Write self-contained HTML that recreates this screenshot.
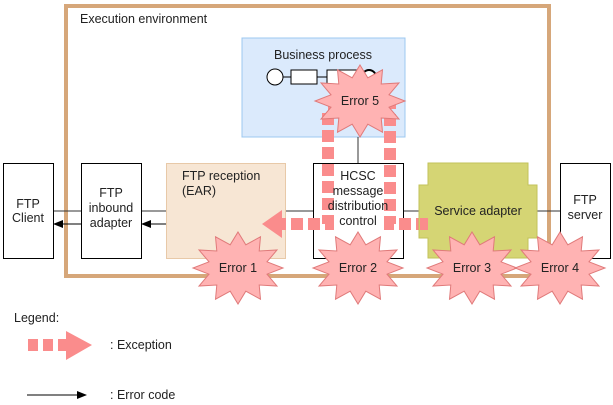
<!DOCTYPE html>
<html><head><meta charset="utf-8"><style>
html,body{margin:0;padding:0;background:#fff}
svg{display:block}
text{font-family:"Liberation Sans",Arial,sans-serif;font-size:12.5px;fill:#222}
</style></head><body>
<svg id="s" width="613" height="405" viewBox="0 0 613 405" xmlns="http://www.w3.org/2000/svg">
<defs><marker id="ah" markerWidth="10" markerHeight="8" refX="9" refY="4" orient="auto" markerUnits="userSpaceOnUse"><path d="M0,0 L10,4 L0,8 Z" fill="#000"/></marker></defs>
<rect x="66" y="6" width="483" height="270" fill="none" stroke="#d6a77a" stroke-width="4"/>
<text x="80" y="23">Execution environment</text>
<rect x="242" y="38" width="163" height="99" fill="#dbeafc" stroke="#9cc8f0" stroke-width="1"/>
<text x="323" y="59" text-anchor="middle">Business process</text>
<line x1="283" y1="77" x2="291" y2="77" stroke="#000"/>
<line x1="317" y1="77" x2="327" y2="77" stroke="#000"/>
<circle cx="275" cy="77" r="8" fill="#fff" stroke="#000"/>
<rect x="291" y="70" width="26" height="14" fill="#fff" stroke="#000"/>
<rect x="327" y="70" width="30" height="14" fill="#fff" stroke="#000"/>
<circle cx="369" cy="77" r="7" fill="#fff" stroke="#000" stroke-width="2"/>
<line x1="358" y1="137" x2="358" y2="163" stroke="#333"/>
<g stroke="#333" stroke-width="1">
<line x1="53" y1="211" x2="81" y2="211"/>
<line x1="141" y1="211" x2="166" y2="211"/>
<line x1="285" y1="211" x2="313" y2="211"/>
<line x1="403" y1="211" x2="419" y2="211"/>
<line x1="537" y1="211" x2="560" y2="211"/>
</g>
<line x1="174" y1="224" x2="142" y2="224" stroke="#000" marker-end="url(#ah)"/>
<line x1="81" y1="224" x2="54" y2="224" stroke="#000" marker-end="url(#ah)"/>
<rect x="3.5" y="163.5" width="50" height="95" fill="#fff" stroke="#000"/>
<text x="28" y="208" text-anchor="middle">FTP</text><text x="28" y="222" text-anchor="middle">Client</text>
<rect x="81.5" y="163.5" width="60" height="95" fill="#fff" stroke="#000"/>
<text x="111" y="197" text-anchor="middle">FTP</text><text x="111" y="212" text-anchor="middle">inbound</text><text x="111" y="227" text-anchor="middle">adapter</text>
<rect x="166.5" y="163.5" width="119" height="95" fill="#f7e6d4" stroke="#e8c9a8"/>
<text x="182" y="180">FTP reception</text><text x="182" y="195">(EAR)</text>
<rect x="313.5" y="163.5" width="90" height="95" fill="#fff" stroke="#000"/>
<g stroke="#fa8c8c" stroke-width="12" fill="none" stroke-dasharray="12,5">
<polyline points="428,224 390,224 390,108 328,108 328,224 282,224"/>
</g>
<text x="358" y="180" text-anchor="middle">HCSC</text><text x="358" y="195" text-anchor="middle">message</text><text x="358" y="210" text-anchor="middle">distribution</text><text x="358" y="225" text-anchor="middle">control</text>
<polygon points="428,163 528,163 528,185 537,185 537,238 528,238 528,258 428,258 428,238 419,238 419,185 428,185" fill="#d5d574" stroke="#c2c25a"/>
<text x="478" y="215" text-anchor="middle">Service adapter</text>
<rect x="560.5" y="163.5" width="50" height="95" fill="#fff" stroke="#000"/>
<text x="585" y="204" text-anchor="middle">FTP</text><text x="585" y="219" text-anchor="middle">server</text>
<g stroke="#fa8c8c" stroke-width="12" stroke-dasharray="12,5"><line x1="428" y1="224" x2="420" y2="224"/></g>
<polygon points="262,224 282,210 282,238" fill="#fa8c8c"/>
<g id="stars"></g>
<text x="14" y="322">Legend:</text>
<g stroke="#fa8c8c" stroke-width="12" stroke-dasharray="10,5"><line x1="28" y1="345" x2="68" y2="345"/></g>
<polygon points="66,331 92,345 66,360" fill="#fa8c8c"/>
<text x="110" y="349">: Exception</text>
<line x1="27" y1="395" x2="86" y2="395" stroke="#000" marker-end="url(#ah)"/>
<text x="110" y="399">: Error code</text>
</svg>
<script>
var g=document.getElementById('stars');var NS="http://www.w3.org/2000/svg";
[[238,268,"Error 1"],[358,268,"Error 2"],[472,268,"Error 3"],[560,268,"Error 4"],[360,101,"Error 5"]].forEach(function(s){
 var pts=[],n=12;for(var i=0;i<2*n;i++){var a=Math.PI*i/n-Math.PI/2,o=i%2;var rx=o?30:45,ry=o?24:36;pts.push((s[0]+rx*Math.cos(a)).toFixed(1)+","+(s[1]+ry*Math.sin(a)).toFixed(1));}
 var p=document.createElementNS(NS,"polygon");p.setAttribute("points",pts.join(" "));p.setAttribute("fill","#ffb3b3");p.setAttribute("stroke","#e07a7a");g.appendChild(p);
 var t=document.createElementNS(NS,"text");t.setAttribute("x",s[0]);t.setAttribute("y",s[1]+4);t.setAttribute("text-anchor","middle");t.textContent=s[2];g.appendChild(t);
});
</script>
</body></html>
